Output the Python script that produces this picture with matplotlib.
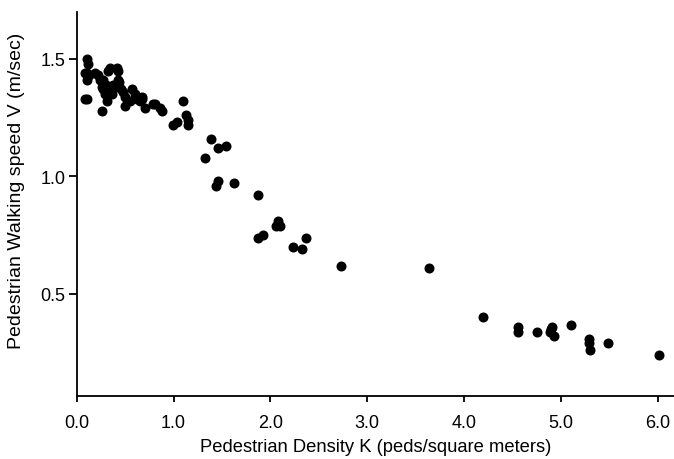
import matplotlib
matplotlib.use('Agg')
import matplotlib.pyplot as plt

plt.rc('font', family=['Liberation Sans', 'DejaVu Sans'], size=12)

# density K (peds/m^2) and walking speed V (m/s)
density = [0.10, 0.12, 0.08, 0.11, 0.13, 0.10, 0.19, 0.22, 0.24, 0.27,
           0.32, 0.34, 0.41, 0.43, 0.30, 0.34, 0.32, 0.29, 0.36, 0.37,
           0.39, 0.26, 0.27, 0.43, 0.44, 0.46, 0.48, 0.50, 0.57, 0.60,
           0.62, 0.65, 0.67, 0.55, 0.08, 0.11, 0.31, 0.26, 0.50, 0.70,
           0.79, 0.67, 0.81, 0.86, 0.88,
           1.10, 0.99, 1.04, 1.13, 1.15, 1.15, 1.39, 1.46, 1.54, 1.32,
           1.44, 1.46, 1.62, 1.87, 1.87, 1.92, 2.08, 2.06, 2.10, 2.37,
           2.23, 2.33, 2.73, 3.64, 4.20, 4.56, 4.56, 4.75, 4.91, 4.89,
           4.93, 4.90, 5.11, 5.29, 5.29, 5.30, 5.49, 6.02]
speed = [1.50, 1.48, 1.44, 1.44, 1.43, 1.41, 1.44, 1.43, 1.41, 1.41,
         1.45, 1.46, 1.46, 1.45, 1.39, 1.37, 1.36, 1.35, 1.35, 1.39,
         1.38, 1.38, 1.37, 1.41, 1.40, 1.37, 1.36, 1.34, 1.37, 1.35,
         1.33, 1.32, 1.33, 1.32, 1.33, 1.33, 1.32, 1.28, 1.30, 1.29,
         1.31, 1.34, 1.31, 1.29, 1.28,
         1.32, 1.22, 1.23, 1.26, 1.24, 1.22, 1.16, 1.12, 1.13, 1.08,
         0.96, 0.98, 0.97, 0.92, 0.74, 0.75, 0.81, 0.79, 0.79, 0.74,
         0.70, 0.69, 0.62, 0.61, 0.40, 0.36, 0.34, 0.34, 0.36, 0.34,
         0.32, 0.35, 0.37, 0.31, 0.29, 0.26, 0.29, 0.24]

xticks = [0, 1, 2, 3, 4, 5, 6]
xticklabels = ['0.0', '1.0', '2.0', '3.0', '4.0', '5.0', '6.0']
yticks = [0.5, 1.0, 1.5]
yticklabels = ['0.5', '1.0', '1.5']

fig = plt.figure(figsize=(6.74, 4.6), dpi=100)
ax = fig.add_axes([0.114, 0.137, 0.886, 0.835])

ax.plot(density, speed, linestyle='None', marker='o', markersize=6.2,
        color='k', markeredgecolor='k')

ax.set_xlim(0, 6.17)
ax.set_ylim(0.066, 1.70)
ax.set_xticks(xticks)
ax.set_xticklabels(xticklabels)
ax.set_yticks(yticks)
ax.set_yticklabels(yticklabels)

for s in ['top', 'right']:
    ax.spines[s].set_visible(False)
for s in ['left', 'bottom']:
    ax.spines[s].set_linewidth(1.3)
ax.tick_params(axis='x', labelsize=13, length=4, width=1.3, pad=9, colors='k')
ax.tick_params(axis='y', labelsize=13, length=6, width=1.3, pad=2, colors='k')

ax.set_xlabel('Pedestrian Density K (peds/square meters)', fontsize=13.2, labelpad=5)
ax.set_ylabel('Pedestrian Walking speed V (m/sec)', fontsize=14)
ax.yaxis.set_label_coords(-0.086, 0.536)

plt.savefig('out.png', dpi=100)
